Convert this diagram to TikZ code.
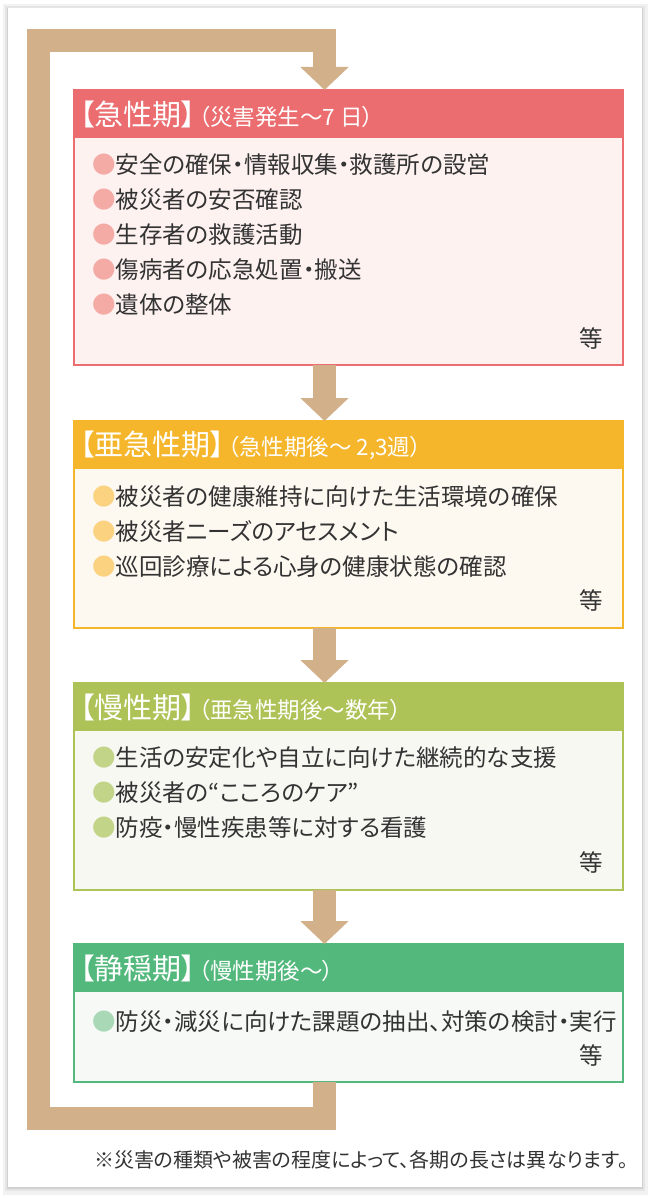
\documentclass[tikz,border=0pt]{standalone}
\usepackage{fontspec}
\setmainfont{Noto Sans CJK JP}
\newfontfamily\hdfont[RawFeature=+palt]{Noto Sans CJK JP}
\usetikzlibrary{arrows.meta}

\definecolor{loopTan}{HTML}{D2B18A}
\definecolor{redHd}{HTML}{EB6D70}
\definecolor{redBg}{HTML}{FDF2F0}
\definecolor{redDot}{HTML}{F4AAA5}
\definecolor{orgHd}{HTML}{F6B62C}
\definecolor{orgBg}{HTML}{FDF8F0}
\definecolor{orgDot}{HTML}{FBD380}
\definecolor{olvHd}{HTML}{ADC357}
\definecolor{olvBg}{HTML}{F7F8F2}
\definecolor{olvDot}{HTML}{C2D487}
\definecolor{grnHd}{HTML}{52B87B}
\definecolor{grnBg}{HTML}{F6F9F6}
\definecolor{grnDot}{HTML}{A8D8B5}
\definecolor{inkGray}{HTML}{333333}
\newcommand{\pdot}[1]{{\color{#1}●}}
\newcommand{\bigT}{\fontsize{29}{32}\selectfont}
\newcommand{\smlT}{\kern3pt\fontsize{22.5}{24}\selectfont}

\begin{document}
\begin{tikzpicture}[x=1pt,y=-1pt]
\tikzset{
  phase/.style={rectangle,draw=#1,line width=2pt,anchor=north west,minimum width=549pt,inner sep=0pt,outer sep=0pt},
  head/.style={rectangle,fill=#1,anchor=north west,minimum height=48pt,text width=537pt,align=left,inner xsep=6pt,inner ysep=0pt,outer sep=0pt,text=white,font=\hdfont},
  item/.style={anchor=west,inner sep=0pt,text=inkGray,font=\hdfont\fontsize{23.5}{27}\selectfont},
  etc/.style={anchor=east,inner sep=0pt,text=inkGray,font=\hdfont\fontsize{23.5}{27}\selectfont},
  flow/.style={draw=loopTan,line width=23pt,-{Triangle[length=23pt,width=47pt]}}
}
\useasboundingbox (0,0) rectangle (650,1198);
% panel with shadow
\fill[black!5] (3,4) rectangle (648,1195);
\fill[black!10] (5,6) rectangle (645,1191);
\fill[black!18] (7,8) rectangle (643,1189);
\fill[white] (8,8) rectangle (642,1187);
\coordinate (ax) at (324.5,0);
% phases
\node[phase=redHd,fill=redBg,minimum height=275pt] (ph1) at (74,90) {};
\node[head=redHd] (hd1) at (ph1.north west) {\bigT【急性期】\smlT（災害発生～7\kern5pt 日）};
\node[phase=orgHd,fill=orgBg,minimum height=207pt] (ph2) at (74,421) {};
\node[head=orgHd] (hd2) at (ph2.north west) {\bigT【亜急性期】\smlT（急性期後～\kern5pt 2,3週）};
\node[phase=olvHd,fill=olvBg,minimum height=207pt] (ph3) at (74,683) {};
\node[head=olvHd] (hd3) at (ph3.north west) {\bigT【慢性期】\smlT（亜急性期後～数年）};
\node[phase=grnHd,fill=grnBg,minimum height=138pt] (ph4) at (74,944) {};
\node[head=grnHd] (hd4) at (ph4.north west) {\bigT【静穏期】\smlT（慢性期後～）};
% items
\foreach \txt [count=\k] in {安全の確保・情報収集・救護所の設営,被災者の安否確認,生存者の救護活動,傷病者の応急処置・搬送,遺体の整体}
  \node[item] (a\k) at (92,130+35*\k) {\pdot{redDot}\txt};
\foreach \txt [count=\k] in {被災者の健康維持に向けた生活環境の確保,被災者ニーズのアセスメント,巡回診療による心身の健康状態の確認}
  \node[item] (b\k) at (92,462+35*\k) {\pdot{orgDot}\txt};
\foreach \txt [count=\k] in {生活の安定化や自立に向けた継続的な支援,被災者の“こころのケア”,防疫・慢性疾患等に対する看護}
  \node[item] (c\k) at (92,723+35*\k) {\pdot{olvDot}\txt};
\node[item] (d1) at (92,1022) {\pdot{grnDot}防災・減災に向けた課題の抽出、対策の検討・実行};
\node[etc] (e1) at (603,338) {等};
\node[etc] (e2) at (603,600) {等};
\node[etc] (e3) at (603,862) {等};
\node[etc] (e4) at (603,1055) {等};
% arrows
\draw[flow] (ph1.south -| ax) -- (ph2.north -| ax);
\draw[flow] (ph2.south -| ax) -- (ph3.north -| ax);
\draw[flow] (ph3.south -| ax) -- (ph4.north -| ax);
\coordinate (loopL) at (38.5,1118);
\coordinate (loopT) at (38.5,40.5);
\draw[flow] (ph4.south -| ax) |- (loopL) -- (loopT) -| (ph1.north -| ax);
\node[anchor=east,inner sep=0pt,text=inkGray,font=\hdfont\fontsize{20}{22}\selectfont] (note) at (628,1160) {※災害の種類や被害の程度によって、各期の長さは異なります。};
\end{tikzpicture}
\end{document}
